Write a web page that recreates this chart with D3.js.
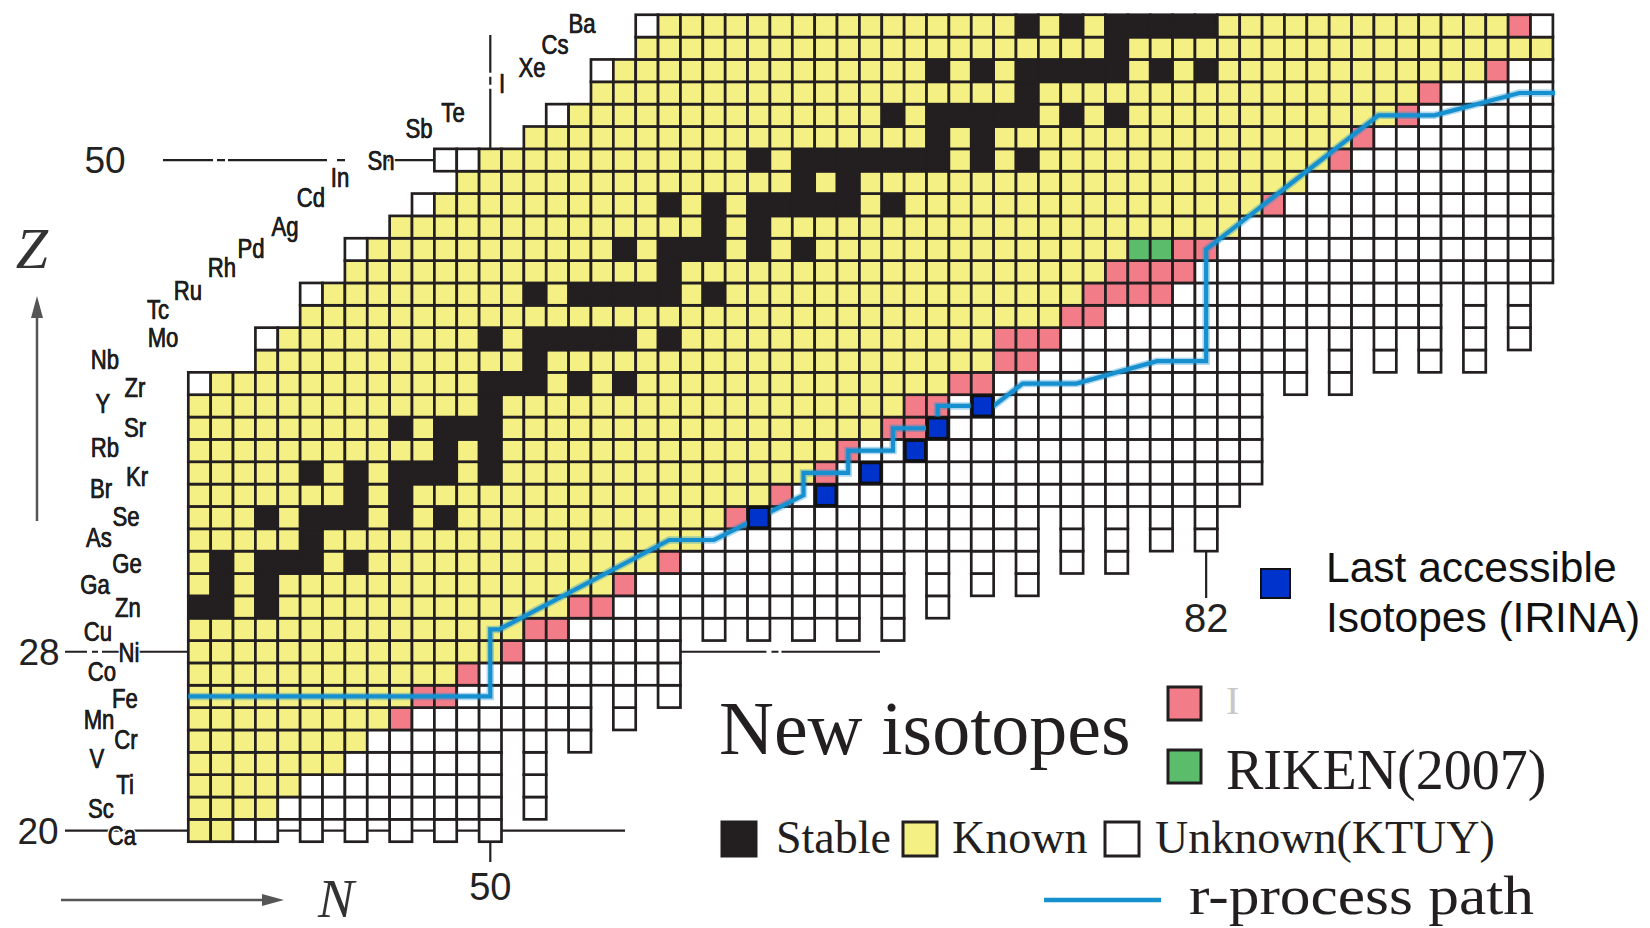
<!DOCTYPE html>
<html>
<head>
<meta charset="utf-8">
<script src="https://cdn.jsdelivr.net/npm/d3@7"></script>
<style>
  html, body { margin: 0; padding: 0; background: #fff; }
  svg { display: block; }
</style>
</head>
<body>
<svg width="1650" height="928"></svg>
<script>
// element symbols, Z = 20 .. 56
const symbols = ['Ca','Sc','Ti','V','Cr','Mn','Fe','Co','Ni','Cu','Zn','Ga','Ge','As','Se','Br','Kr','Rb','Sr','Y',
  'Zr','Nb','Mo','Tc','Ru','Rh','Pd','Ag','Cd','In','Sn','Sb','Te','I','Xe','Cs','Ba'];

// per Z: first drawn N, first known N, last known N
const firstN = [37,37,37,37,37,37,37,37,37,37,37,37,37,37,37,37,37,37,37,37,
  37,40,40,42,42,44,44,46,47,49,48,52,53,55,55,57,57];
const firstKnownN = [37,37,37,37,37,37,37,37,37,37,37,37,37,37,37,37,37,37,37,37,
  38,40,41,42,43,44,45,46,48,49,50,52,54,55,56,57,58];
const lastKnownN = [38,40,41,43,44,45,46,48,50,51,53,55,57,59,60,62,64,65,67,68,
  70,72,72,75,76,77,78,83,84,86,87,88,90,91,94,97,95];

// stable isotopes (N) per Z
const stableN = [[],[],[],[],[],[],[],[],[],[],
  [37,38,40],[38,40],[38,40,41,42,44],[42],[40,42,43,44,46,48],[44,46],[42,44,46,47,48,50],[48,50],[46,48,49,50],[50],
  [50,51,52,54,56],[52],[50,52,53,54,55,56,58],[],[52,54,55,56,57,58,60],[58],[56,58,59,60,62,64],[60,62],
  [58,60,62,63,64,65,66,68],[64,66],[62,64,65,66,67,68,69,70,72,74],[70,72],[68,70,71,72,73,74,76,78],[74],
  [70,72,74,75,76,77,78,80,82],[78],[74,76,78,79,80,81,82]];

// lowest Z predicted bound (KTUY) for each N = 37 .. 97
const minZ = [20,20,20,20,21,20,21,20,21,20,21,20,21,20,25,21,25,24,27,25,
  27,26,30,29,30,29,30,29,30,29,31,29,33,30,33,31,33,31,35,32,
  35,32,35,33,35,33,35,36,41,40,43,40,43,41,43,41,45,41,45,42,45];

// new isotopes [Z, N]
const newIsotopes = [[25,46],[26,47],[26,48],[27,49],[28,51],[29,52],[29,53],[30,54],[30,55],[31,56],[32,58],
  [34,61],[35,63],[36,65],[37,66],[38,68],[38,69],[39,69],[39,70],[40,71],[40,72],[41,73],[41,74],
  [42,73],[42,74],[42,75],[43,76],[43,77],[44,77],[44,78],[44,79],[44,80],[45,78],[45,79],[45,80],[45,81],
  [46,81],[46,82],[48,85],[50,88],[51,89],[52,91],[53,92],[54,95],[56,96]];
const riken2007 = [[46,79],[46,80]];
// last accessible isotopes (IRINA) [Z, N]
const irinaLast = [[34,62],[35,65],[36,67],[37,69],[38,70],[39,72]];

// r-process path [N, Z]
const rProcess = [[36.5,26],[50,26],[50,29],[50.4,29],[58,33],[60,33],[64,35],[64,36],[66,36],[66,37],[68,37],
  [68,38],[70,38],[70,39],[72.5,39],[73.8,40],[76.2,40],[79.8,41],[82,41],[82,46],[89.7,52],[92.2,52],
  [96,53],[97.6,53]];

const magicZ = [20, 28, 50];
const magicN = [50, 82];

// ---------- layout ----------
const svg = d3.select('svg');
const x = d3.scaleLinear().domain([36.5, 97.5]).range([188.3, 1552.9]);
const y = d3.scaleLinear().domain([19.5, 56.5]).range([841.7, 14.75]);
const cw = x(1) - x(0), ch = y(0) - y(1);

const colors = {
  known: '#f5f083', stable: '#231f20', unknown: '#ffffff',
  new: '#f27c88', riken: '#5bbd6c', irina: '#0033cc'
};
const ink = '#231f20';

const key = (Z, N) => Z + ':' + N;
const special = new Map();
newIsotopes.forEach(d => special.set(key(d[0], d[1]), 'new'));
riken2007.forEach(d => special.set(key(d[0], d[1]), 'riken'));

const cells = [];
symbols.forEach((s, i) => {
  const Z = 20 + i;
  for (let N = firstN[i]; N <= 97; N++) {
    if (Z < minZ[N - 37]) continue;
    let type = 'unknown';
    if (N >= firstKnownN[i] && N <= lastKnownN[i]) type = stableN[i].includes(N) ? 'stable' : 'known';
    if (special.has(key(Z, N))) type = special.get(key(Z, N));
    cells.push({ Z, N, type });
  }
});

// magic number guide lines (behind the cells)
const guides = svg.append('g').attr('stroke', ink).attr('stroke-width', 2.2).attr('fill', 'none');
guides.append('line').attr('x1', 65).attr('x2', 625).attr('y1', y(20)).attr('y2', y(20));
guides.append('line').attr('x1', 65).attr('x2', x(36.5)).attr('y1', y(28)).attr('y2', y(28))
  .attr('stroke-dasharray', '22 5 6 4 200');
guides.append('line').attr('x1', x(58.5)).attr('x2', 880).attr('y1', y(28)).attr('y2', y(28))
  .attr('stroke-dasharray', '86 5 7 3 200');
guides.append('line').attr('x1', 163).attr('x2', x(47.5)).attr('y1', y(50)).attr('y2', y(50))
  .attr('stroke-dasharray', '50 4 8 3 99 10 8 39 200');
guides.append('line').attr('x1', x(50)).attr('x2', x(50)).attr('y1', y(50.5)).attr('y2', 35)
  .attr('stroke-dasharray', '60 4 8 4 40');
guides.append('line').attr('x1', x(50)).attr('x2', x(50)).attr('y1', y(19.5)).attr('y2', 862);
guides.append('line').attr('x1', x(82)).attr('x2', x(82)).attr('y1', y(32.5)).attr('y2', 598);

// nuclide cells
svg.append('g')
  .selectAll('rect')
  .data(cells)
  .join('rect')
  .attr('x', d => x(d.N - 0.5))
  .attr('y', d => y(d.Z + 0.5))
  .attr('width', cw)
  .attr('height', ch)
  .attr('fill', d => colors[d.type])
  .attr('stroke', ink)
  .attr('stroke-width', 2.7);

// r-process path
const line = d3.line().x(d => x(d[0])).y(d => y(d[1]));
svg.append('path').datum(rProcess).attr('d', line)
  .attr('fill', 'none').attr('stroke', '#1790d0').attr('stroke-opacity', 0.35).attr('stroke-width', 7.5);
svg.append('path').datum(rProcess).attr('d', line)
  .attr('fill', 'none').attr('stroke', '#1790d0').attr('stroke-width', 4.2);

// last accessible isotopes
svg.append('g')
  .selectAll('rect')
  .data(irinaLast)
  .join('rect')
  .attr('x', d => x(d[1] - 0.5) + 1)
  .attr('y', d => y(d[0] + 0.5) + 1)
  .attr('width', cw - 2)
  .attr('height', ch - 2)
  .attr('fill', colors.irina)
  .attr('stroke', '#111')
  .attr('stroke-width', 3);

// element symbols
const symbolPos = [[122,835],[101,808],[125,784],[97,758],[126,739],[99,719],[125,698],[102,671],[129,652],
  [98,631],[128,607],[95,584],[127,563],[99,537],[126,516],[101,488],[137,476],[105,447],[135,427],[103,403],
  [135,387],[105,359],[163,337],[158,309],[188,290],[222,267],[251,248],[285,226],[311,197],[340,177],
  [381,160],[419,128],[453,112],[502,83],[532,67],[555,44],[582,23]];
const symG = svg.append('g')
  .attr('text-anchor', 'middle')
  .attr('font-family', 'Liberation Sans, Arial, sans-serif')
  .attr('font-size', 27);
symG.selectAll('text')
  .data(symbols)
  .join('text')
  .attr('transform', (d, i) => `translate(${symbolPos[i][0]},${symbolPos[i][1]}) scale(0.82,1)`)
  .attr('dy', '0.36em')
  .attr('fill', '#1e1e1e')
  .attr('stroke', '#fff')
  .attr('stroke-width', 4)
  .attr('paint-order', 'stroke')
  .text(d => d);
// slightly heavier strokes, like the scanned labels
symG.selectAll('text.ov')
  .data(symbols)
  .join('text')
  .attr('class', 'ov')
  .attr('transform', (d, i) => `translate(${symbolPos[i][0]},${symbolPos[i][1]}) scale(0.82,1)`)
  .attr('dy', '0.36em')
  .attr('fill', '#1e1e1e')
  .attr('stroke', '#1e1e1e')
  .attr('stroke-width', 0.6)
  .text(d => d);

// magic number labels
const numFont = 'Liberation Sans, Arial, sans-serif';
const zLabelPos = { 20: 38, 28: 39, 50: 105 };
svg.append('g').selectAll('text').data(magicZ).join('text')
  .attr('x', d => zLabelPos[d]).attr('y', d => y(d)).attr('dy', '0.36em')
  .attr('text-anchor', 'middle').attr('font-family', numFont).attr('font-size', 37).attr('fill', '#222')
  .text(d => d);
svg.append('text').attr('x', x(magicN[0])).attr('y', 900).attr('text-anchor', 'middle')
  .attr('font-family', numFont).attr('font-size', 38).attr('fill', '#222').text(magicN[0]);
svg.append('text').attr('x', x(magicN[1])).attr('y', 632).attr('text-anchor', 'middle')
  .attr('font-family', numFont).attr('font-size', 40).attr('fill', '#222').text(magicN[1]);

// axis arrows and titles
const serif = 'Liberation Serif, Times New Roman, serif';
const arrow = svg.append('g').attr('fill', '#555').attr('stroke', '#555');
arrow.append('line').attr('x1', 37).attr('x2', 37).attr('y1', 521).attr('y2', 312).attr('stroke-width', 2.5);
arrow.append('path').attr('d', 'M37,296 L31,318 L43,318 Z').attr('stroke', 'none');
arrow.append('line').attr('x1', 61).attr('x2', 268).attr('y1', 900).attr('y2', 900).attr('stroke-width', 2.5);
arrow.append('path').attr('d', 'M284,900 L262,894 L262,906 Z').attr('stroke', 'none');
svg.append('text').attr('x', 32).attr('y', 268).attr('text-anchor', 'middle')
  .attr('font-family', serif).attr('font-style', 'italic')
  .attr('font-size', 58).attr('fill', '#333').text('Z');
svg.append('text').attr('x', 336).attr('y', 917).attr('text-anchor', 'middle')
  .attr('font-family', serif).attr('font-style', 'italic')
  .attr('font-size', 54).attr('fill', '#333').text('N');

// legend
const lg = svg.append('g');
lg.append('rect').attr('x', 1261).attr('y', 569).attr('width', 29).attr('height', 29)
  .attr('fill', colors.irina).attr('stroke', '#111').attr('stroke-width', 2);
lg.append('text').attr('x', 1326).attr('y', 582).attr('font-family', numFont).attr('font-size', 42.5)
  .attr('fill', '#111').text('Last accessible');
lg.append('text').attr('x', 1326).attr('y', 632).attr('font-family', numFont).attr('font-size', 42.5)
  .attr('fill', '#111').text('Isotopes (IRINA)');

lg.append('text').attr('x', 719).attr('y', 754).attr('font-family', serif).attr('font-size', 76)
  .attr('fill', ink).text('New isotopes');
lg.append('rect').attr('x', 1168).attr('y', 687).attr('width', 33).attr('height', 33)
  .attr('fill', colors.new).attr('stroke', ink).attr('stroke-width', 3);
lg.append('text').attr('x', 1226).attr('y', 714).attr('font-family', serif).attr('font-size', 40)
  .attr('fill', '#c8c8c8').text('I');
lg.append('rect').attr('x', 1168).attr('y', 750).attr('width', 33).attr('height', 33)
  .attr('fill', colors.riken).attr('stroke', ink).attr('stroke-width', 3);
lg.append('text').attr('x', 1226).attr('y', 789).attr('font-family', serif).attr('font-size', 56)
  .attr('fill', ink).text('RIKEN(2007)');

const keys = [
  { label: 'Stable', type: 'stable', x: 722, tx: 776 },
  { label: 'Known', type: 'known', x: 903, tx: 952 },
  { label: 'Unknown(KTUY)', type: 'unknown', x: 1105, tx: 1155 }
];
keys.forEach(k => {
  lg.append('rect').attr('x', k.x).attr('y', 822).attr('width', 34).attr('height', 34)
    .attr('fill', colors[k.type]).attr('stroke', ink).attr('stroke-width', 3);
  lg.append('text').attr('x', k.tx).attr('y', 853).attr('font-family', serif).attr('font-size', 46)
    .attr('fill', ink).text(k.label);
});
lg.append('line').attr('x1', 1044).attr('x2', 1161).attr('y1', 900).attr('y2', 900)
  .attr('stroke', '#1790d0').attr('stroke-width', 4.5);
lg.append('text').attr('x', 1189).attr('y', 914).attr('font-family', serif).attr('font-size', 54)
  .attr('textLength', 345).attr('lengthAdjust', 'spacingAndGlyphs')
  .attr('fill', ink).text('r-process path');
</script>
</body>
</html>
